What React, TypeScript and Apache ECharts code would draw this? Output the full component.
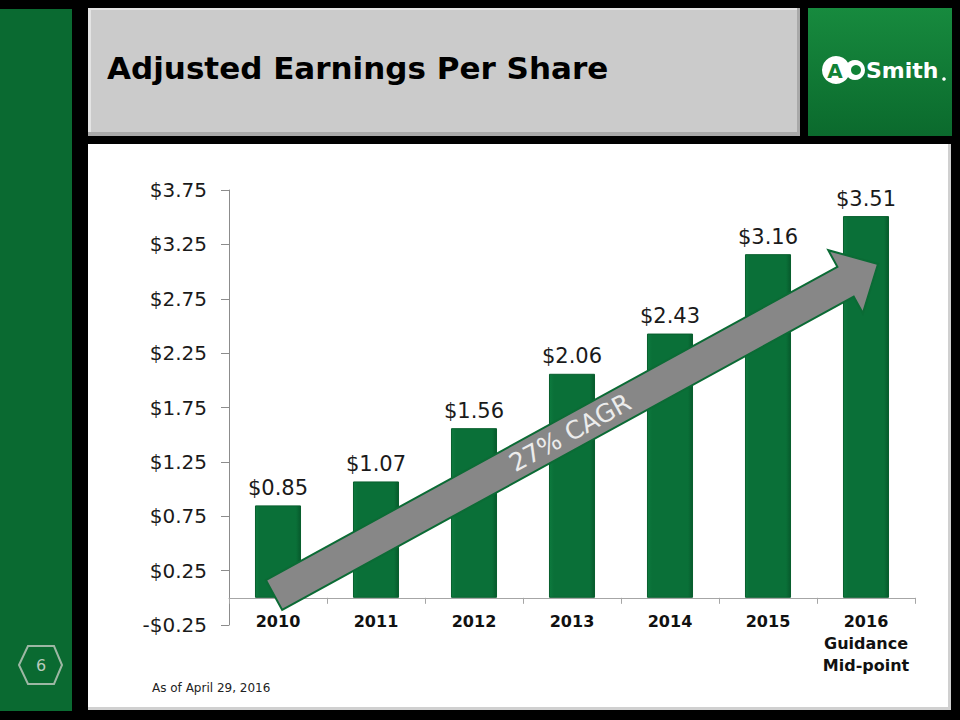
import React, { useEffect, useRef } from "react";
import * as echarts from "echarts";

const categories = ["2010", "2011", "2012", "2013", "2014", "2015", "2016\nGuidance\nMid-point"];
const eps = [0.85, 1.07, 1.56, 2.06, 2.43, 3.16, 3.51];
const yMin = -0.25;
const yMax = 3.75;
const yStep = 0.5;
const titleText = "Adjusted Earnings Per Share";
const noteText = "As of April 29, 2016";
const cagrText = "27% CAGR";
const pageNumber = "6";

const FONT = "'DejaVu Sans', sans-serif";

function arrowPoints(tail: number[], tip: number[], w: number, H: number, hl: number) {
  const dx = tip[0] - tail[0];
  const dy = tip[1] - tail[1];
  const L = Math.sqrt(dx * dx + dy * dy);
  const u = [dx / L, dy / L];
  const v = [-u[1], u[0]];
  const p = (t: number, s: number) => [tail[0] + t * u[0] + s * v[0], tail[1] + t * u[1] + s * v[1]];
  return {
    points: [p(0, -w), p(L - hl, -w), p(L - hl, -H), tip, p(L - hl, H), p(L - hl, w), p(0, w)],
    angle: Math.atan2(-dy, dx),
    mid: p(L * 0.49, 0),
  };
}

export default function App() {
  const ref = useRef<HTMLDivElement>(null);
  useEffect(() => {
    if (!ref.current) return;
    const chart = echarts.init(ref.current, undefined, { renderer: "svg" });
    const arrow = arrowPoints([274, 595], [878, 264], 17, 36, 37);
    chart.setOption({
      animation: false,
      backgroundColor: "#000000",
      grid: { left: 229, right: 45, top: 190, bottom: 95 },
      xAxis: {
        type: "category",
        data: categories,
        axisLine: { onZero: true, lineStyle: { color: "#a6a6a6", width: 1 } },
        axisTick: { show: true, length: 6, lineStyle: { color: "#a6a6a6" } },
        axisLabel: {
          interval: 0,
          margin: -15,
          fontFamily: FONT,
          fontWeight: "bold",
          fontSize: 16,
          lineHeight: 22,
          color: "#111111",
        },
      },
      yAxis: {
        type: "value",
        min: yMin,
        max: yMax,
        interval: yStep,
        splitLine: { show: false },
        axisLine: { show: true, lineStyle: { color: "#8c8c8c", width: 1 } },
        axisTick: { show: true, inside: false, length: 8, lineStyle: { color: "#8c8c8c", width: 1 } },
        axisLabel: {
          margin: 22,
          fontFamily: FONT,
          fontSize: 20,
          color: "#1a1a1a",
          formatter: (val: number) => (val < 0 ? "-$" : "$") + Math.abs(val).toFixed(2),
        },
      },
      series: [
        {
          type: "bar",
          data: eps,
          barWidth: "47%",
          itemStyle: {
            color: {
              type: "linear",
              x: 0,
              y: 0,
              x2: 1,
              y2: 0,
              colorStops: [
                { offset: 0, color: "#0d7a3e" },
                { offset: 0.1, color: "#0a7038" },
                { offset: 0.9, color: "#0a7038" },
                { offset: 1, color: "#075a2c" },
              ],
            },
            borderColor: "#075e2d",
            borderWidth: 1,
          },
          label: {
            show: true,
            position: "top",
            distance: 7,
            fontFamily: FONT,
            fontSize: 21,
            color: "#1a1a1a",
            formatter: (p: any) => "$" + Number(p.value).toFixed(2),
          },
        },
      ],
      graphic: [
        { type: "rect", z: -20, shape: { x: 0, y: 9, width: 72, height: 702 }, style: { fill: "#0a6a31" } },
        { type: "rect", z: -20, shape: { x: 88, y: 8, width: 712, height: 128 }, style: { fill: "#a9a9a9" } },
        { type: "rect", z: -19, shape: { x: 88, y: 8, width: 709, height: 124 }, style: { fill: "#e4e4e4" } },
        { type: "rect", z: -18, shape: { x: 91, y: 10, width: 706, height: 122 }, style: { fill: "#cbcbcb" } },
        {
          type: "rect",
          z: -20,
          shape: { x: 808, y: 8, width: 144, height: 128 },
          style: {
            fill: {
              type: "linear",
              x: 0,
              y: 0,
              x2: 0,
              y2: 1,
              colorStops: [
                { offset: 0, color: "#178a3e" },
                { offset: 1, color: "#0b6a2d" },
              ],
            },
          },
        },
        { type: "rect", z: -20, shape: { x: 88, y: 144, width: 863, height: 566 }, style: { fill: "#d0d0d0" } },
        { type: "rect", z: -19, shape: { x: 88, y: 144, width: 860, height: 563 }, style: { fill: "#ffffff" } },
        {
          type: "text",
          z: -10,
          style: { x: 107, y: 68, text: titleText, fontFamily: FONT, fontWeight: "bold", fontSize: 31, fill: "#000000", textVerticalAlign: "middle" },
        },
        { type: "circle", z: -10, shape: { cx: 836, cy: 70, r: 14 }, style: { fill: "#ffffff" } },
        {
          type: "text",
          z: -9,
          style: { x: 835, y: 71, text: "A", fontFamily: FONT, fontWeight: "bold", fontSize: 20, fill: "#118236", textAlign: "center", textVerticalAlign: "middle" },
        },
        { type: "circle", z: -10, shape: { cx: 855, cy: 70, r: 10 }, style: { fill: "#ffffff" } },
        { type: "circle", z: -9, shape: { cx: 856, cy: 70, r: 5 }, style: { fill: "#118236" } },
        {
          type: "text",
          z: -10,
          style: { x: 866, y: 70, text: "Smith", fontFamily: FONT, fontWeight: "bold", fontSize: 22, fill: "#ffffff", textVerticalAlign: "middle" },
        },
        { type: "circle", z: -10, shape: { cx: 944, cy: 79, r: 1.8 }, style: { fill: "#ffffff" } },
        {
          type: "polygon",
          z: -10,
          shape: { points: [[19, 665], [28, 646], [54, 646], [62, 665], [54, 684], [28, 684]] },
          style: { fill: "none", stroke: "#9db7a4", lineWidth: 2 },
        },
        {
          type: "text",
          z: -10,
          style: { x: 41, y: 665, text: pageNumber, fontFamily: FONT, fontSize: 16, fill: "#b9cbbd", textAlign: "center", textVerticalAlign: "middle" },
        },
        {
          type: "text",
          z: -10,
          style: { x: 152, y: 688, text: noteText, fontFamily: FONT, fontSize: 12, fill: "#222222", textVerticalAlign: "middle" },
        },
        {
          type: "polygon",
          z: 50,
          shape: { points: arrow.points },
          style: { fill: "#878787", stroke: "#0b6b35", lineWidth: 2 },
        },
        {
          type: "text",
          z: 51,
          x: arrow.mid[0],
          y: arrow.mid[1],
          rotation: arrow.angle,
          style: { x: 0, y: 0, text: cagrText, fontFamily: FONT, fontSize: 25, fill: "#ececec", textAlign: "center", textVerticalAlign: "middle" },
        },
      ],
    });
    return () => chart.dispose();
  }, []);
  return <div ref={ref} style={{ position: "fixed", left: 0, top: 0, width: 960, height: 720 }} />;
}
